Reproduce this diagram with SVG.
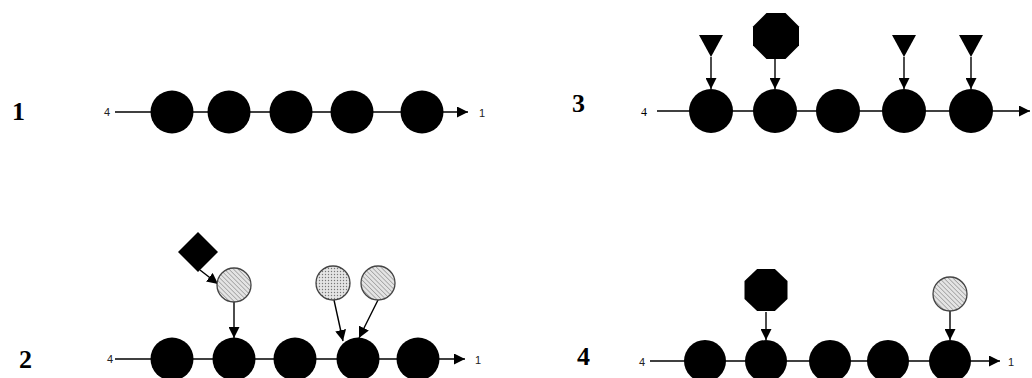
<svg xmlns="http://www.w3.org/2000/svg" width="1032" height="378" viewBox="0 0 1032 378">
<style>
.big{fill:#000}
.shade{stroke:#444;stroke-width:1.3}
.hatch{fill:url(#hatch)}
.dots{fill:url(#dots)}
.ar{stroke:#000;stroke-width:1.4;fill:none;marker-end:url(#ah)}
.lbl{font-family:"Liberation Serif",serif;font-weight:bold;font-size:26px;fill:#000}
.sm{font-family:"Liberation Sans",Arial,sans-serif;font-size:11px;fill:#222}
.smr{font-family:"Liberation Serif",serif;font-size:12px;fill:#000}
</style>
<defs>
<marker id="ah" viewBox="0 0 10 10" refX="10" refY="5" markerWidth="11" markerHeight="11" markerUnits="userSpaceOnUse" orient="auto">
<path d="M0,0 L10,5 L0,10 Z" fill="#000"/>
</marker>
<pattern id="hatch" width="3.2" height="3.2" patternUnits="userSpaceOnUse" patternTransform="rotate(-45)">
<rect width="3.2" height="3.2" fill="#e4e4e4"/>
<line x1="0" y1="0" x2="0" y2="3.2" stroke="#777" stroke-width="1"/>
</pattern>
<pattern id="dots" width="3" height="3" patternUnits="userSpaceOnUse">
<rect width="3" height="3" fill="#e4e4e4"/>
<circle cx="1.5" cy="1.5" r="0.7" fill="#777"/>
</pattern>
</defs>

<g id="labels">
<text class="lbl" x="12" y="120">1</text>
<text class="lbl" x="572" y="112">3</text>
<text class="lbl" x="19" y="368">2</text>
<text class="lbl" x="577" y="365">4</text>
<text class="sm" x="104" y="116">4</text>
<text class="sm" x="479" y="117">1</text>
<text class="smr" x="641" y="116">4</text>
<text class="sm" x="107" y="363">4</text>
<text class="sm" x="475" y="364">1</text>
<text class="sm" x="639" y="366">4</text>
<text class="sm" x="1008" y="366">1</text>
</g>

<g id="connectors">
<line class="ar" x1="115" y1="112" x2="468" y2="112"/>
<line class="ar" x1="657" y1="111" x2="1030" y2="111"/>
<line class="ar" x1="115" y1="359" x2="465" y2="359"/>
<line class="ar" x1="650" y1="361" x2="1000" y2="361"/>
<line class="ar" x1="711" y1="57" x2="711" y2="89"/>
<line class="ar" x1="775" y1="59" x2="775" y2="89"/>
<line class="ar" x1="904" y1="57" x2="904" y2="89"/>
<line class="ar" x1="971" y1="57" x2="971" y2="89"/>
<line class="ar" x1="200" y1="270" x2="218" y2="284"/>
<line class="ar" x1="234" y1="302" x2="234" y2="338"/>
<line class="ar" x1="334" y1="300" x2="343" y2="341"/>
<line class="ar" x1="378" y1="300" x2="359" y2="338"/>
<line class="ar" x1="766" y1="312" x2="766" y2="340"/>
<line class="ar" x1="950" y1="311" x2="950" y2="340"/>
</g>

<g id="panel1">
<circle class="big" cx="172" cy="112" r="21.5"/>
<circle class="big" cx="229" cy="112" r="21.5"/>
<circle class="big" cx="291" cy="112" r="21.5"/>
<circle class="big" cx="352" cy="112" r="21.5"/>
<circle class="big" cx="422" cy="112" r="21.5"/>
</g>

<g id="panel3">
<circle class="big" cx="711" cy="111" r="22"/>
<circle class="big" cx="775" cy="111" r="22"/>
<circle class="big" cx="838" cy="111" r="22"/>
<circle class="big" cx="904" cy="111" r="22"/>
<circle class="big" cx="971" cy="111" r="22"/>
<polygon class="big" points="699,35 723,35 711,57"/>
<polygon class="big" points="892,35 916,35 904,57"/>
<polygon class="big" points="959,35 983,35 971,57"/>
<polygon class="big" points="766.5,13 785.5,13 799,26.5 799,45.5 785.5,59 766.5,59 753,45.5 753,26.5"/>
</g>

<g id="panel2">
<circle class="big" cx="172" cy="359" r="21.5"/>
<circle class="big" cx="234" cy="359" r="21.5"/>
<circle class="big" cx="295" cy="359" r="21.5"/>
<circle class="big" cx="358" cy="359" r="21.5"/>
<circle class="big" cx="418" cy="359" r="21.5"/>
<polygon class="big" points="198,232 218,252 198,272 178,252"/>
<circle class="hatch shade" cx="234" cy="285" r="17"/>
<circle class="dots shade" cx="333" cy="283" r="17"/>
<circle class="hatch shade" cx="378" cy="283" r="17"/>
</g>

<g id="panel4">
<circle class="big" cx="705" cy="361" r="21"/>
<circle class="big" cx="766" cy="361" r="21"/>
<circle class="big" cx="830" cy="361" r="21"/>
<circle class="big" cx="888" cy="361" r="21"/>
<circle class="big" cx="950" cy="361" r="21"/>
<polygon class="big" points="757.1,269 774.9,269 787.5,281.1 787.5,298.9 774.9,311 757.1,311 744.5,298.9 744.5,281.1"/>
<circle class="hatch shade" cx="950" cy="294" r="17"/>
</g>
</svg>
